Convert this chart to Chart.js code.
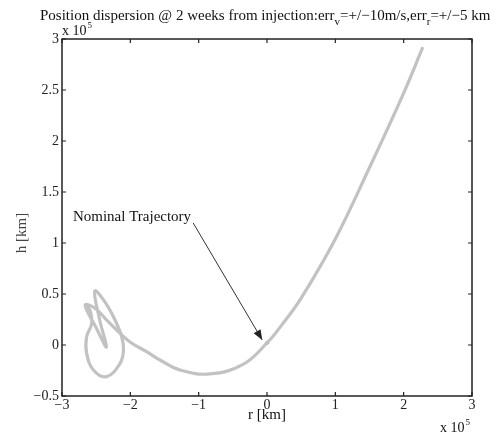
<!DOCTYPE html>
<html>
<head>
<meta charset="utf-8">
<script src="https://cdn.jsdelivr.net/npm/chart.js@4/dist/chart.umd.min.js"></script>
<style>
html,body{margin:0;padding:0;background:#fff;}
#wrap{width:502px;height:439px;}
</style>
</head>
<body>
<div id="wrap"><canvas id="c" width="502" height="439"></canvas></div>
<script>
// values in units of 1e5 km
const trajR = [2.28, 2.0, 1.5, 1.0, 0.5, 0.22, 0.0, -0.35, -0.834, -1.273, -1.566, -1.75, -2.005, -2.2, -2.346, -2.517, -2.66, -2.50, -2.35, -2.45, -2.52, -2.37, -2.224, -2.126, -2.10, -2.15, -2.346, -2.54, -2.64, -2.64, -2.566, -2.59, -2.64];
const trajH = [2.92, 2.47, 1.74, 1.04, 0.46, 0.2, 0.02, -0.19, -0.284, -0.245, -0.147, -0.07, 0.03, 0.147, 0.245, 0.36, 0.39, 0.17, -0.02, 0.25, 0.53, 0.42, 0.245, 0.08, -0.05, -0.18, -0.31, -0.245, -0.08, 0.08, 0.21, 0.34, 0.38];
const nominalR = [0.0];
const nominalH = [0.02];
const xTicks = [-3, -2, -1, 0, 1, 2, 3];
const yTicks = [-0.5, 0, 0.5, 1, 1.5, 2, 2.5, 3];
const annotText = "Nominal Trajectory";
const annotTextPos = [-2.84, 1.26];
const arrowFrom = [-1.08, 1.196];
const arrowTo = [-0.07, 0.05];

const fmt = v => (v < 0 ? "\u2212" + Math.abs(v) : String(v));
const serif = "'Liberation Serif', 'DejaVu Serif', serif";

const deco = {
  id: 'deco',
  afterDraw(chart) {
    const ctx = chart.ctx, a = chart.chartArea, xs = chart.scales.x, ys = chart.scales.y;
    ctx.save();
    ctx.strokeStyle = '#222'; ctx.lineWidth = 1.5;
    ctx.strokeRect(a.left, a.top, a.right - a.left, a.bottom - a.top);
    ctx.lineWidth = 1.2;
    ctx.beginPath();
    xTicks.forEach(t => {
      const px = xs.getPixelForValue(t);
      ctx.moveTo(px, a.bottom); ctx.lineTo(px, a.bottom - 4);
      ctx.moveTo(px, a.top); ctx.lineTo(px, a.top + 4);
    });
    yTicks.forEach(t => {
      const py = ys.getPixelForValue(t);
      ctx.moveTo(a.left, py); ctx.lineTo(a.left + 4, py);
      ctx.moveTo(a.right, py); ctx.lineTo(a.right - 4, py);
    });
    ctx.stroke();
    ctx.fillStyle = '#111';
    ctx.textBaseline = 'alphabetic';
    ctx.textAlign = 'left';
    const parts = [
      ["Position dispersion @ 2 weeks from injection:err", 0],
      ["v", 1],
      ["=+/\u221210m/s,err", 0],
      ["r", 1],
      ["=+/\u22125 km", 0]
    ];
    let x = 40, base = 20;
    parts.forEach(([s, sub]) => {
      ctx.font = (sub ? '11px ' : '15px ') + serif;
      ctx.fillText(s, x, base + (sub ? 5 : 0));
      x += ctx.measureText(s).width;
    });
    const mult = (x0, y0) => {
      ctx.font = '14px ' + serif;
      ctx.fillText("x 10", x0, y0);
      const w = ctx.measureText("x 10").width;
      ctx.font = '9px ' + serif;
      ctx.fillText("5", x0 + w + 1, y0 - 7);
    };
    mult(62, 35);
    mult(440, 432);
    ctx.font = '15px ' + serif;
    ctx.textAlign = 'center';
    ctx.fillText("r [km]", (a.left + a.right) / 2, 419);
    ctx.save();
    ctx.translate(21, 233);
    ctx.rotate(-Math.PI / 2);
    ctx.fillStyle = '#444';
    ctx.fillText("h [km]", 0, 5);
    ctx.restore();
    ctx.textAlign = 'left';
    ctx.fillStyle = '#111';
    ctx.font = '15px ' + serif;
    ctx.fillText(annotText, xs.getPixelForValue(annotTextPos[0]), ys.getPixelForValue(annotTextPos[1]) + 5);
    const x1 = xs.getPixelForValue(arrowFrom[0]), y1 = ys.getPixelForValue(arrowFrom[1]);
    const x2 = xs.getPixelForValue(arrowTo[0]), y2 = ys.getPixelForValue(arrowTo[1]);
    ctx.strokeStyle = '#333'; ctx.lineWidth = 1;
    ctx.beginPath(); ctx.moveTo(x1, y1); ctx.lineTo(x2, y2); ctx.stroke();
    const ang = Math.atan2(y2 - y1, x2 - x1), L = 10, W = 4;
    ctx.fillStyle = '#222';
    ctx.beginPath();
    ctx.moveTo(x2, y2);
    ctx.lineTo(x2 - L * Math.cos(ang) + W * Math.sin(ang), y2 - L * Math.sin(ang) - W * Math.cos(ang));
    ctx.lineTo(x2 - L * Math.cos(ang) - W * Math.sin(ang), y2 - L * Math.sin(ang) + W * Math.cos(ang));
    ctx.closePath(); ctx.fill();
    ctx.restore();
  }
};

new Chart(document.getElementById('c'), {
  type: 'scatter',
  data: {
    datasets: [
      {
        data: trajR.map((r, i) => ({x: r, y: trajH[i]})),
        showLine: true, borderColor: '#c2c2c2', borderWidth: 3.2,
        pointRadius: 0, tension: 0.4, fill: false
      },
      {
        data: nominalR.map((r, i) => ({x: r, y: nominalH[i]})),
        pointRadius: 1.6, backgroundColor: '#111', borderColor: '#111', borderWidth: 0
      }
    ]
  },
  options: {
    responsive: false, animation: false,
    layout: {padding: {top: 39, right: 30, left: 0, bottom: 0}},
    plugins: {legend: {display: false}, tooltip: {enabled: false}},
    scales: {
      x: {
        type: 'linear', min: -3, max: 3,
        grid: {display: false, drawTicks: false}, border: {display: false},
        afterBuildTicks: s => { s.ticks = xTicks.map(v => ({value: v})); },
        afterFit: s => { s.height = 43; },
        ticks: {padding: 1, color: '#222', font: {family: serif, size: 14}, callback: v => fmt(v), maxRotation: 0, autoSkip: false}
      },
      y: {
        type: 'linear', min: -0.5, max: 3,
        grid: {display: false, drawTicks: false}, border: {display: false},
        afterBuildTicks: s => { s.ticks = yTicks.map(v => ({value: v})); },
        afterFit: s => { s.width = 62; },
        ticks: {padding: 3, color: '#222', font: {family: serif, size: 14}, callback: v => fmt(v), autoSkip: false}
      }
    }
  },
  plugins: [deco]
});
</script>
</body>
</html>
